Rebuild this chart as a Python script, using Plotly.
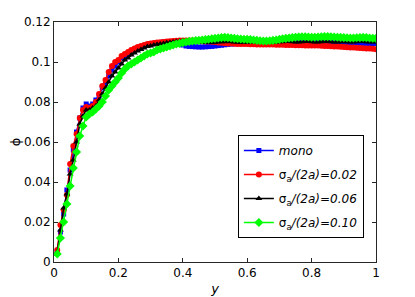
import plotly.graph_objects as go

# x positions (y coordinate, normalised), sampled every 0.01
y_pos = [round(0.01 * i, 2) for i in range(1, 101)]

phi_mono = [
    0.005, 0.015, 0.024, 0.036, 0.046, 0.056, 0.065, 0.072, 0.077, 0.079,
    0.078, 0.079, 0.081, 0.083, 0.087, 0.089, 0.093, 0.096, 0.098, 0.100,
    0.102, 0.103, 0.104, 0.105, 0.106, 0.1065, 0.107, 0.108, 0.1085, 0.109,
    0.1093, 0.1095, 0.1097, 0.110, 0.110, 0.110, 0.1098, 0.1095, 0.109, 0.1085,
    0.108, 0.1078, 0.1077, 0.1076, 0.1075, 0.1075, 0.1076, 0.1077, 0.1078, 0.108,
    0.1082, 0.1084, 0.1086, 0.1088, 0.109, 0.1091, 0.1092, 0.1093, 0.1094, 0.1095,
    0.1096, 0.1097, 0.1097, 0.1098, 0.1098, 0.1097, 0.1097, 0.1098, 0.1099, 0.1099,
    0.1098, 0.1098, 0.1099, 0.110, 0.110, 0.1099, 0.1099, 0.1098, 0.1098, 0.1099,
    0.1099, 0.110, 0.110, 0.1099, 0.1098, 0.1097, 0.1097, 0.1096, 0.1096, 0.1095,
    0.1095, 0.1094, 0.1094, 0.1093, 0.1093, 0.1093, 0.1093, 0.1092, 0.1092, 0.1092,
]

phi_002 = [
    0.006, 0.0185, 0.026, 0.0335, 0.049, 0.058, 0.064, 0.072, 0.076, 0.0775,
    0.077, 0.078, 0.080, 0.084, 0.088, 0.091, 0.095, 0.098, 0.100, 0.101,
    0.103, 0.104, 0.105, 0.106, 0.1067, 0.1075, 0.108, 0.1085, 0.109, 0.1093,
    0.1095, 0.1097, 0.1099, 0.110, 0.1102, 0.1104, 0.1105, 0.1106, 0.1107, 0.1108,
    0.1108, 0.1108, 0.1107, 0.1106, 0.1105, 0.1104, 0.1103, 0.1102, 0.1101, 0.110,
    0.1098, 0.1096, 0.1094, 0.1093, 0.1092, 0.1091, 0.109, 0.109, 0.109, 0.109,
    0.1089, 0.1089, 0.1088, 0.1088, 0.1088, 0.1087, 0.1087, 0.1087, 0.1086, 0.1086,
    0.1086, 0.1085, 0.1085, 0.1085, 0.1084, 0.1084, 0.1084, 0.1083, 0.1083, 0.1083,
    0.1082, 0.1082, 0.1081, 0.108, 0.108, 0.1079, 0.1078, 0.1077, 0.1076, 0.1075,
    0.1074, 0.1073, 0.1072, 0.1071, 0.107, 0.1069, 0.1068, 0.1067, 0.1066, 0.1064,
]

phi_006 = [
    0.005, 0.016, 0.027, 0.034, 0.044, 0.051, 0.060, 0.069, 0.073, 0.076,
    0.076, 0.077, 0.078, 0.081, 0.084, 0.087, 0.090, 0.093, 0.095, 0.097,
    0.099, 0.101, 0.102, 0.1035, 0.1045, 0.1055, 0.1063, 0.107, 0.1077, 0.108,
    0.1085, 0.1088, 0.109, 0.1093, 0.1096, 0.1098, 0.110, 0.1102, 0.1104, 0.1105,
    0.1105, 0.1104, 0.1103, 0.1102, 0.1101, 0.110, 0.1099, 0.1098, 0.1098, 0.1099,
    0.110, 0.1101, 0.1101, 0.1102, 0.1101, 0.110, 0.1099, 0.1098, 0.1098, 0.1099,
    0.110, 0.1101, 0.1101, 0.110, 0.1099, 0.1098, 0.1098, 0.1099, 0.110, 0.1101,
    0.1101, 0.1102, 0.1102, 0.1101, 0.110, 0.110, 0.1101, 0.1102, 0.1102, 0.1101,
    0.110, 0.110, 0.1101, 0.1102, 0.1102, 0.1101, 0.110, 0.110, 0.1101, 0.1101,
    0.1101, 0.110, 0.110, 0.1101, 0.1102, 0.1102, 0.1101, 0.110, 0.110, 0.1101,
]

phi_010 = [
    0.004, 0.012, 0.020, 0.029, 0.038, 0.047, 0.055, 0.063, 0.068, 0.0725,
    0.074, 0.075, 0.0765, 0.078, 0.080, 0.083, 0.086, 0.088, 0.090, 0.092,
    0.0945, 0.0965, 0.098, 0.099, 0.100, 0.101, 0.102, 0.103, 0.104, 0.1045,
    0.105, 0.106, 0.1065, 0.107, 0.1075, 0.108, 0.1085, 0.109, 0.1093, 0.1097,
    0.110, 0.1103, 0.1105, 0.1107, 0.1108, 0.111, 0.1112, 0.1114, 0.1116, 0.1118,
    0.112, 0.1122, 0.1123, 0.1122, 0.112, 0.1118, 0.1116, 0.1115, 0.1114, 0.1113,
    0.1112, 0.111, 0.1108, 0.1106, 0.1105, 0.1105, 0.1106, 0.1108, 0.111, 0.1113,
    0.1116, 0.1118, 0.112, 0.1122, 0.1124, 0.1125, 0.1126, 0.1126, 0.1125, 0.1124,
    0.1124, 0.1125, 0.1126, 0.1127, 0.1127, 0.1126, 0.1125, 0.1124, 0.1123, 0.1122,
    0.1121, 0.112, 0.112, 0.1121, 0.1122, 0.1123, 0.1122, 0.112, 0.1119, 0.1118,
]

series_names = [
    "<i>mono</i>",
    "σ<sub>a</sub><i>/(2a)=0.02</i>",
    "σ<sub>a</sub><i>/(2a)=0.06</i>",
    "σ<sub>a</sub><i>/(2a)=0.10</i>",
]
series_values = [phi_mono, phi_002, phi_006, phi_010]
series_colors = ["#0000FF", "#FF0000", "#000000", "#00FF00"]
series_symbols = ["square", "circle", "triangle-up", "diamond"]
series_sizes = [5, 6, 6, 7]

x_tickvals = [0, 0.2, 0.4, 0.6, 0.8, 1]
x_ticktext = ["0", "0.2", "0.4", "0.6", "0.8", "1"]
y_tickvals = [0, 0.02, 0.04, 0.06, 0.08, 0.1, 0.12]
y_ticktext = ["0", "0.02", "0.04", "0.06", "0.08", "0.1", "0.12"]

fig = go.Figure()
for i, (name, vals, col, sym, sz) in enumerate(zip(series_names, series_values, series_colors,
                                                   series_symbols, series_sizes)):
    fig.add_trace(go.Scatter(
        x=y_pos, y=vals, name=name, mode="lines+markers",
        legendgroup=f"g{i}",
        line=dict(color=col, width=1.5),
        marker=dict(symbol=sym, size=sz, color=col, line=dict(width=0)),
    ))

font_family = "DejaVu Sans, Liberation Sans, Arial, sans-serif"
fig.update_layout(
    width=407, height=289,
    margin=dict(l=46, r=39, t=14, b=35),
    paper_bgcolor="white", plot_bgcolor="white",
    font=dict(family=font_family, size=12, color="black"),
    showlegend=True,
    legend=dict(
        x=0.571, y=0.529, xanchor="left", yanchor="top",
        bgcolor="white", bordercolor="black", borderwidth=1,
        font=dict(size=12, family=font_family),
        itemwidth=30, tracegroupgap=5,
    ),
    xaxis=dict(
        range=[0, 1], tickvals=x_tickvals, ticktext=x_ticktext,
        ticks="inside", ticklen=4, tickcolor="#262626",
        showline=True, linecolor="#262626", linewidth=1, mirror="ticks",
        showgrid=False, zeroline=False, automargin=False,
        tickfont=dict(size=12),
        title=dict(text="<i>y</i>", standoff=4, font=dict(size=13)),
    ),
    yaxis=dict(
        range=[0, 0.12], tickvals=y_tickvals, ticktext=y_ticktext,
        ticks="inside", ticklen=4, tickcolor="#262626",
        showline=True, linecolor="#262626", linewidth=1, mirror="ticks",
        showgrid=False, zeroline=False, automargin=False,
        tickfont=dict(size=12),
        title=dict(text="ϕ", standoff=6, font=dict(size=13)),
    ),
)

fig.write_html("out.html")
